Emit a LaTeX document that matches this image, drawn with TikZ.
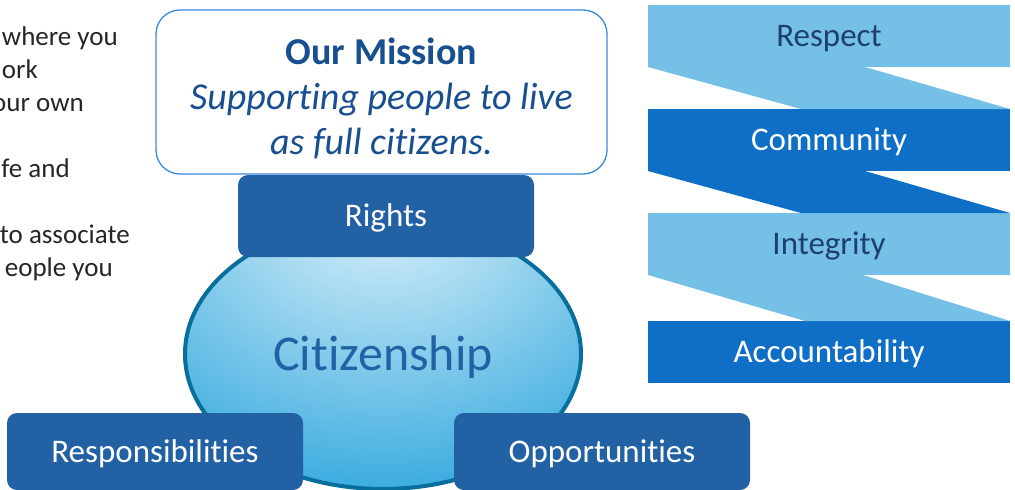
\documentclass[tikz,border=0pt]{standalone}
\usepackage{fontspec}
\setmainfont{Carlito}[Ligatures={NoCommon,NoContextual}]
\usepackage{xcolor}
\usepackage{tikz}
\usetikzlibrary{shapes,shapes.geometric}
\usetikzlibrary{calc,positioning}
\definecolor{pillarblue}{RGB}{35,97,165}
\definecolor{missionline}{RGB}{59,137,219}
\definecolor{missionink}{RGB}{24,79,145}
\definecolor{bandlight}{RGB}{117,192,231}
\definecolor{banddark}{RGB}{15,111,198}
\definecolor{bandink}{RGB}{30,64,110}
\definecolor{citline}{RGB}{8,110,155}
\definecolor{citlight}{RGB}{222,242,250}
\definecolor{citedge}{RGB}{50,168,222}
\definecolor{notegray}{RGB}{38,38,38}
\pgfdeclareradialshading{citshade}{\pgfpoint{0bp}{28bp}}{color(0bp)=(citlight); color(44bp)=(citedge); color(100bp)=(citedge)}
\tikzset{
  note/.style={anchor=base east, inner sep=0pt, text=notegray, font=\fontsize{27}{33}\selectfont},
  missionbox/.style={rectangle, draw=missionline, line width=1.3pt, fill=white, rounded corners=24pt, minimum width=451pt, minimum height=164pt},
  missiontext/.style={anchor=base, align=center, inner sep=0pt, text=missionink, font=\fontsize{38}{45}\selectfont},
  citizen/.style={ellipse, draw=citline, line width=4pt, shading=citshade, minimum width=396pt, minimum height=270pt, inner sep=0pt, text=pillarblue, text height=32pt, text depth=0pt, font=\fontsize{50}{58}\selectfont},
  pillar/.style={rectangle, fill=pillarblue, rounded corners=10pt, text=white, minimum width=296pt, minimum height=80pt, text height=21pt, text depth=0pt, font=\fontsize{33}{40}\selectfont},
  band_l/.style={rectangle, fill=bandlight, text=bandink, minimum width=362pt, minimum height=62pt, outer sep=0pt, text height=21pt, text depth=0pt, font=\fontsize{33}{40}\selectfont},
  band_d/.style={band_l, fill=banddark, text=white}
}
\begin{document}
\begin{tikzpicture}[x=1pt,y=-1pt]
  \clip (0,0) rectangle (1015,490);
  % notes on the left, cut off by the page edge
  \node[note] (n1) at (118,45) {where you};
  \node[note] (n2) at (38,78) {ork};
  \node[note] (n3) at (84,111) {our own};
  \node[note] (n4) at (70,177) {fe and};
  \node[note] (n5) at (130,243) {to associate};
  \node[note] (n6) at (113,276) {eople you};
  % mission
  \node[missionbox] (mission) at (381.5,92) {};
  \node[missiontext] (mtext) at (381.5,154) {\textbf{Our Mission}\\ \textit{Supporting people to live}\\ \textit{as full citizens.}};
  % citizenship and its three pillars
  \node[citizen] (cit) at (383,354) {Citizenship};
  \node[pillar, minimum height=82pt] (rights) at (386,216) {Rights};
  \node[pillar, minimum height=77pt] (resp) at (155,451.5) {Responsibilities};
  \node[pillar, minimum height=77pt] (opp) at (602,451.5) {Opportunities};
  % values
  \node[band_l] (respect) at (829,36) {Respect};
  \node[band_d, below=42pt of respect] (community) {Community};
  \node[band_l, below=42pt of community] (integrity) {Integrity};
  \node[band_d, below=46pt of integrity] (account) {Accountability};
  \fill[bandlight] (respect.south west) -- ($(respect.south west)+(217,0)$) -- (community.north east) -- ($(community.north west)+(153,0)$) -- cycle;
  \fill[banddark] (community.south west) -- ($(community.south west)+(217,0)$) -- (integrity.north east) -- ($(integrity.north west)+(153,0)$) -- cycle;
  \fill[bandlight] (integrity.south west) -- ($(integrity.south west)+(215,0)$) -- (account.north east) -- ($(account.north west)+(157,0)$) -- cycle;
\end{tikzpicture}
\end{document}
